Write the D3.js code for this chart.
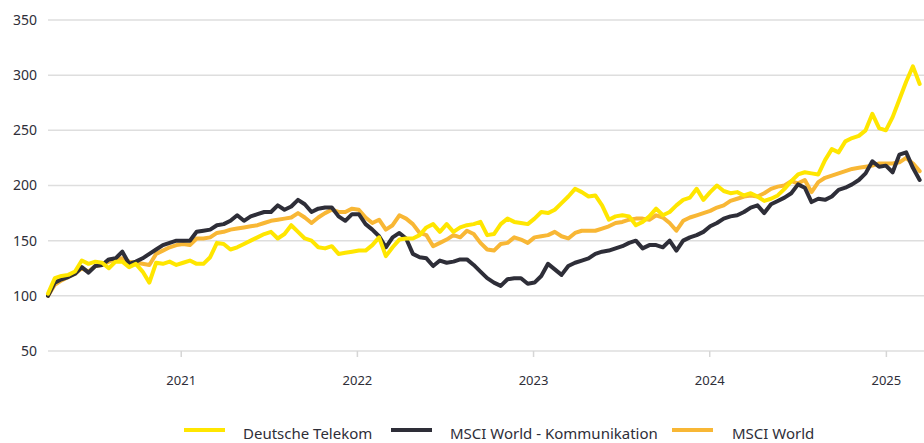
<!DOCTYPE html>
<html>
<head>
<meta charset="utf-8">
<script src="https://cdn.jsdelivr.net/npm/d3@7"></script>
<style>
  body { margin: 0; background: #fff; }
  svg text { font-family: "Noto Sans", "Open Sans", sans-serif; fill: #2e2e38; }
</style>
</head>
<body>
<div class="chart"></div>
<script>
// index values, one point every 14 days from 2020-04-01
var startDate = new Date(2020, 3, 1);
var stepDays = 14;

var telekom = [102,116,118,119,122,132,129,131,130,125,131,131,126,129,122,112,130,129,131,128,
  130,132,129,129,135,148,147,142,144,147,150,153,156,158,152,156,164,158,152,150,
  144,143,145,138,139,140,141,141,146,153,136,144,151,152,152,155,162,165,158,165,
  158,162,164,165,167,155,156,165,170,167,166,165,170,176,175,178,184,190,197,194,
  190,191,182,169,172,173,172,164,167,172,179,173,176,182,187,189,197,187,194,200,
  195,193,194,191,193,190,186,188,191,197,204,210,212,211,210,223,233,230,240,243,
  245,250,265,252,250,262,278,294,308,292];

var msciComm = [100,112,115,117,120,126,121,127,128,133,134,140,129,131,134,138,142,146,148,150,
  150,150,158,159,160,164,165,168,173,168,172,174,176,176,182,178,181,187,183,176,
  179,180,180,172,168,174,174,165,160,154,144,153,157,152,138,135,134,127,132,130,
  131,133,133,128,122,116,112,109,115,116,116,111,112,118,129,124,119,127,130,132,
  134,138,140,141,143,145,148,150,143,146,146,144,150,141,150,153,155,158,163,166,
  170,172,173,176,180,182,175,183,186,189,193,201,198,185,188,187,190,196,198,201,
  205,211,222,217,218,212,228,230,216,205];

var msciWorld = [100,110,114,117,120,125,122,127,128,131,133,134,131,130,129,128,138,141,144,146,
  147,146,152,152,153,157,158,160,161,162,163,164,166,168,169,170,171,175,171,166,
  171,175,178,176,176,179,178,171,166,169,160,164,173,170,165,157,155,145,148,151,
  155,153,159,156,148,142,141,147,148,153,151,148,153,154,155,158,154,152,157,159,
  159,159,161,163,166,167,169,170,170,169,173,171,166,159,168,171,173,175,177,180,
  182,186,188,190,191,190,193,197,199,200,204,202,205,194,203,207,209,211,213,215,
  216,217,218,220,220,220,221,225,220,213];

var seriesNames = ["Deutsche Telekom", "MSCI World - Kommunikation", "MSCI World"];
var seriesColors = ["#ffe600", "#2e2e38", "#f8b735"];
var yTicks = [50, 100, 150, 200, 250, 300, 350];

var width = 924, height = 443;
var plot = {left: 48, right: 924, top: 20, bottom: 351};

var svg = d3.select(".chart")
  .append("svg")
  .attr("width", width)
  .attr("height", height);

var xScale = d3.scaleTime()
  .domain([startDate, new Date(2025, 2, 21)])
  .range([plot.left, plot.right]);

var yScale = d3.scaleLinear()
  .domain([50, 350])
  .range([plot.bottom, plot.top]);

// grid + y labels
svg.append("g")
  .selectAll("line")
  .data(yTicks)
  .enter()
  .append("line")
  .attr("x1", plot.left)
  .attr("x2", plot.right)
  .attr("y1", d => yScale(d))
  .attr("y2", d => yScale(d))
  .style("stroke", "#dedede")
  .style("stroke-width", 1.5);

svg.append("g")
  .selectAll("text")
  .data(yTicks)
  .enter()
  .append("text")
  .attr("x", 37)
  .attr("y", d => yScale(d))
  .attr("dy", "0.35em")
  .attr("text-anchor", "end")
  .style("font-size", "14px")
  .text(d => d);

// x axis
var xAxis = d3.axisBottom(xScale)
  .ticks(d3.timeYear.every(1))
  .tickFormat(d3.timeFormat("%Y"))
  .tickSize(6)
  .tickPadding(19);

var gx = svg.append("g")
  .attr("transform", `translate(0, ${plot.bottom})`)
  .call(xAxis);
gx.select(".domain").remove();
gx.selectAll(".tick line").style("stroke", "#d6d6d6").style("stroke-width", 1.5);
gx.selectAll(".tick text")
  .style("font-size", "13px")
  .style("font-family", "\"Noto Sans\", sans-serif")
  .attr("fill", "#2e2e38");

// lines
var dataSets = [telekom, msciComm, msciWorld].map(vals =>
  vals.map((v, i) => ({date: d3.timeDay.offset(startDate, i * stepDays), value: v})));

var line = d3.line()
  .x(d => xScale(d.date))
  .y(d => yScale(d.value))
  .curve(d3.curveLinear);

var drawOrder = [2, 1, 0];
svg.append("g")
  .selectAll("path")
  .data(drawOrder)
  .enter()
  .append("path")
  .attr("d", k => line(dataSets[k]))
  .style("fill", "none")
  .style("stroke", k => seriesColors[k])
  .style("stroke-width", 4)
  .style("stroke-linejoin", "round")
  .style("stroke-linecap", "round");

// legend
var legendSwatchX = [184, 391, 672];
var legendTextX = [243, 450, 732];
var legend = svg.append("g")
  .selectAll("g")
  .data(seriesNames)
  .enter()
  .append("g");

legend.append("rect")
  .attr("x", (d, i) => legendSwatchX[i])
  .attr("y", 428)
  .attr("width", 41)
  .attr("height", 4)
  .style("fill", (d, i) => seriesColors[i]);

legend.append("text")
  .attr("x", (d, i) => legendTextX[i])
  .attr("y", 434)
  .attr("dy", "0.35em")
  .style("font-size", "15px")
  .text(d => d);
</script>
</body>
</html>
